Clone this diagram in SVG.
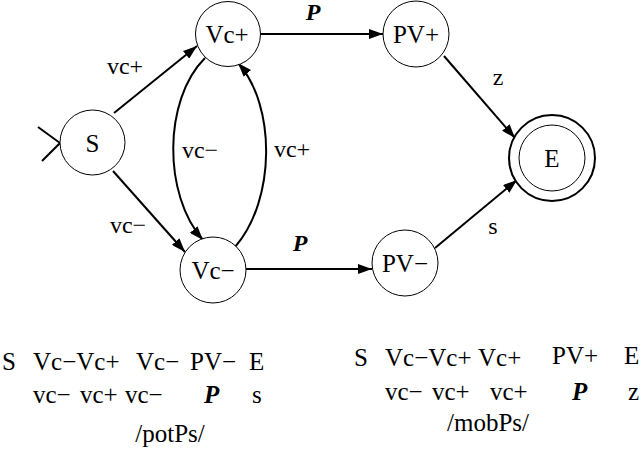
<svg xmlns="http://www.w3.org/2000/svg" width="644" height="454" viewBox="0 0 644 454">
<defs>
<marker id="ah" markerUnits="userSpaceOnUse" markerWidth="14" markerHeight="10" refX="14" refY="5" orient="auto">
<path d="M0,0 L14,5 L0,10 z" fill="#000"/>
</marker>
</defs>
<rect width="644" height="454" fill="#fff"/>
<g id="connectors" fill="none" stroke="#000" stroke-width="2">
<path d="M38,127 L60,143 L42,161"/>
<path d="M114,113 L197,46" marker-end="url(#ah)"/>
<path d="M113,171 L185,252" marker-end="url(#ah)"/>
<path d="M205,58 C163,100 163,195 203,240" marker-end="url(#ah)"/>
<path d="M235,247 C276,200 276,105 238,63" marker-end="url(#ah)"/>
<path d="M261,34 L383,34" marker-end="url(#ah)"/>
<path d="M246,269 L372,269" marker-end="url(#ah)"/>
<path d="M444,56 L515,138" marker-end="url(#ah)"/>
<path d="M435,248 L517,180" marker-end="url(#ah)"/>
</g>
<g id="edge-labels">
<text font-family="Liberation Serif" font-size="24" text-anchor="middle" x="125" y="74">vc+</text>
<text font-family="Liberation Serif" font-size="24" text-anchor="middle" x="128" y="233">vc−</text>
<text font-family="Liberation Serif" font-size="24" text-anchor="middle" x="200" y="158">vc−</text>
<text font-family="Liberation Serif" font-size="24" text-anchor="middle" x="292" y="157">vc+</text>
<text font-family="Liberation Serif" font-size="24" font-weight="bold" font-style="italic" text-anchor="middle" x="313" y="20">P</text>
<text font-family="Liberation Serif" font-size="24" font-weight="bold" font-style="italic" text-anchor="middle" x="300" y="251">P</text>
<text font-family="Liberation Serif" font-size="24" text-anchor="middle" x="498" y="85">z</text>
<text font-family="Liberation Serif" font-size="24" text-anchor="middle" x="493" y="234">s</text>
</g>
<g id="S"><circle fill="#fff" stroke="#000" cx="92.5" cy="142.5" r="32.5"/><text font-family="Liberation Serif" font-size="25" text-anchor="middle" x="92.5" y="152">S</text></g>
<g id="Vcp"><circle fill="#fff" stroke="#000" cx="228" cy="34" r="32.5"/><text font-family="Liberation Serif" font-size="25" text-anchor="middle" x="227" y="43">Vc+</text></g>
<g id="Vcm"><circle fill="#fff" stroke="#000" cx="213" cy="270" r="33"/><text font-family="Liberation Serif" font-size="25" text-anchor="middle" x="213" y="279">Vc−</text></g>
<g id="PVp"><circle fill="#fff" stroke="#000" cx="416" cy="34" r="33"/><text font-family="Liberation Serif" font-size="25" text-anchor="middle" x="416" y="43">PV+</text></g>
<g id="PVm"><circle fill="#fff" stroke="#000" cx="405" cy="263" r="33"/><text font-family="Liberation Serif" font-size="25" text-anchor="middle" x="405" y="272">PV−</text></g>
<g id="E"><circle fill="#fff" stroke="#000" stroke-width="2" cx="552" cy="158" r="43"/><circle fill="#fff" stroke="#000" cx="552" cy="158" r="33"/><text font-family="Liberation Serif" font-size="25" text-anchor="middle" x="552" y="167">E</text></g>
<g id="potPs">
<text font-family="Liberation Serif" font-size="25" x="2" y="370">S</text>
<text font-family="Liberation Serif" font-size="25" x="33" y="370">Vc−Vc+</text>
<text font-family="Liberation Serif" font-size="25" x="136" y="370">Vc−</text>
<text font-family="Liberation Serif" font-size="25" x="190" y="370">PV−</text>
<text font-family="Liberation Serif" font-size="25" x="249" y="370">E</text>
<text font-family="Liberation Serif" font-size="25" x="33" y="403">vc−</text>
<text font-family="Liberation Serif" font-size="25" x="80" y="403">vc+</text>
<text font-family="Liberation Serif" font-size="25" x="125" y="403">vc−</text>
<text font-family="Liberation Serif" font-size="25" font-weight="bold" font-style="italic" x="204" y="403">P</text>
<text font-family="Liberation Serif" font-size="25" x="252" y="403">s</text>
<text font-family="Liberation Serif" font-size="25" text-anchor="middle" x="170" y="442">/potPs/</text>
</g>
<g id="mobPs">
<text font-family="Liberation Serif" font-size="25" x="354" y="366">S</text>
<text font-family="Liberation Serif" font-size="25" x="385" y="366">Vc−Vc+</text>
<text font-family="Liberation Serif" font-size="25" x="478" y="366">Vc+</text>
<text font-family="Liberation Serif" font-size="25" x="552" y="364">PV+</text>
<text font-family="Liberation Serif" font-size="25" x="624" y="364">E</text>
<text font-family="Liberation Serif" font-size="25" x="385" y="400">vc−</text>
<text font-family="Liberation Serif" font-size="25" x="432" y="400">vc+</text>
<text font-family="Liberation Serif" font-size="25" x="490" y="400">vc+</text>
<text font-family="Liberation Serif" font-size="25" font-weight="bold" font-style="italic" x="572" y="400">P</text>
<text font-family="Liberation Serif" font-size="25" x="628" y="400">z</text>
<text font-family="Liberation Serif" font-size="25" text-anchor="middle" x="488" y="431">/mobPs/</text>
</g>
</svg>
